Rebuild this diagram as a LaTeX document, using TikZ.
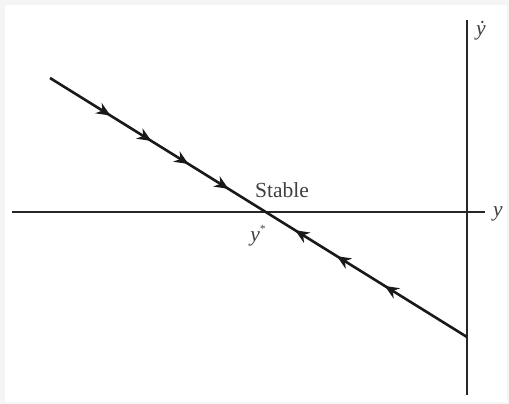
\documentclass[tikz,border=0pt]{standalone}
\usepackage{fontspec}
\setmainfont{Liberation Serif}
\usetikzlibrary{arrows.meta,decorations.markings}
\begin{document}
\begin{tikzpicture}[x=1pt,y=-1pt,
  axis/.style={line width=1.8pt,black!85},
  traj/.style={line width=2.6pt,black!90},
  flow/.style={decoration={markings,
     mark=at position 0.145 with {\arrow{Stealth[length=14pt,width=12pt]}},
     mark=at position 0.243 with {\arrow{Stealth[length=14pt,width=12pt]}},
     mark=at position 0.332 with {\arrow{Stealth[length=14pt,width=12pt]}},
     mark=at position 0.428 with {\arrow{Stealth[length=14pt,width=12pt]}},
     mark=at position 0.588 with {\arrowreversed{Stealth[length=14pt,width=12pt]}},
     mark=at position 0.688 with {\arrowreversed{Stealth[length=14pt,width=12pt]}},
     mark=at position 0.803 with {\arrowreversed{Stealth[length=14pt,width=12pt]}}},
     postaction={decorate}},
  lab/.style={font=\fontsize{21.5}{23}\selectfont, text=black!75, inner sep=0pt}]
\fill[black!4] (0,0) rectangle (509,404);
\fill[white] (5,5) rectangle (507,402);
\useasboundingbox (0,0) rectangle (509,404);
% axes
\coordinate (hl) at (12,212);
\coordinate (hr) at (485,212);
\coordinate (vt) at (467,20);
\coordinate (vb) at (467,395);
\draw[axis] (hl) -- (hr);
\draw[axis] (vt) -- (vb);
% trajectory
\coordinate (ts) at (50,78);
\coordinate (te) at (467,337);
\draw[traj, flow] (ts) -- (te);
% labels
\node[lab] (stable) at (282,190) {Stable};
\node[lab] (ystar) at (258,236) {\textit{y}\raisebox{0.4em}{\fontsize{11}{11}\selectfont *}};
\node[lab] (ydot) at (481,31) {\textit{\.{y}}};
\node[lab] (ylab) at (498,214) {\textit{y}};
\end{tikzpicture}
\end{document}
